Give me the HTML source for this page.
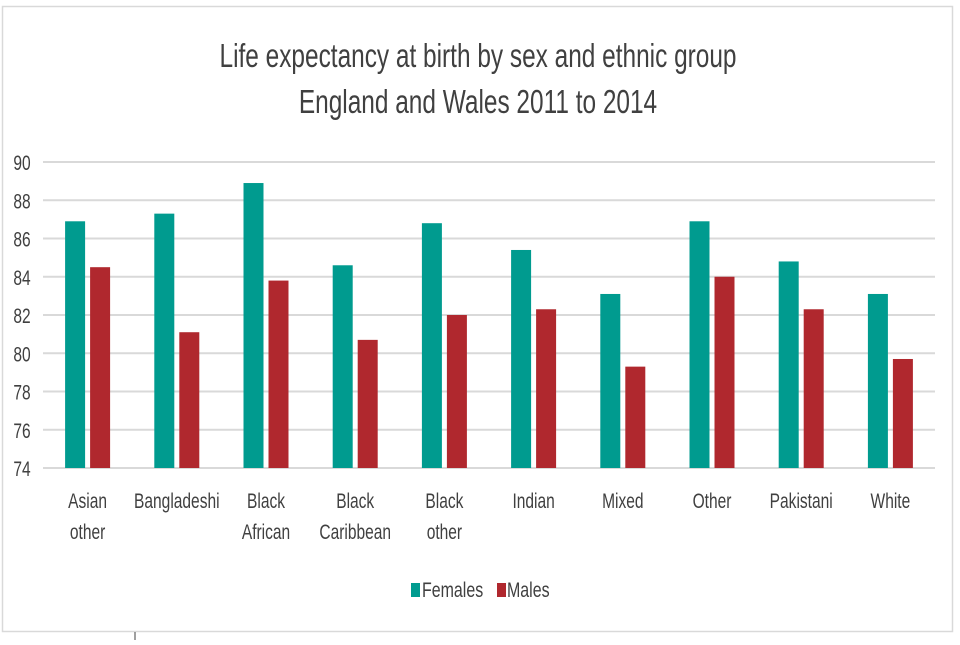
<!DOCTYPE html>
<html><head><meta charset="utf-8"><style>
html,body{margin:0;padding:0;background:#fff;}
svg text{font-family:"Liberation Sans",Arial,sans-serif;fill:#404040;}
</style></head><body>
<svg width="960" height="640" viewBox="0 0 960 640" xmlns="http://www.w3.org/2000/svg">
<rect x="2.5" y="6.5" width="950" height="625" fill="#fff" stroke="#d9d9d9" stroke-width="1.5"/>
<line x1="135" y1="632" x2="135" y2="640" stroke="#404040" stroke-width="1"/>
<g>
<text transform="translate(478,67) scale(0.74,1)" text-anchor="middle" font-size="33">Life expectancy at birth by sex and ethnic group</text>
<text transform="translate(478,113) scale(0.74,1)" text-anchor="middle" font-size="33">England and Wales 2011 to 2014</text>
</g>
<g id="grid"></g><g id="bars"></g><g id="labels"></g>
<g>
<g><rect x="411" y="583" width="9" height="14" fill="#009b8f"/><text transform="translate(422,597) scale(0.76,1)" font-size="21">Females</text></g>
<g><rect x="497" y="583" width="9" height="14" fill="#b0282e"/><text transform="translate(507,597) scale(0.76,1)" font-size="21">Males</text></g>
</g>
</svg>
<script>
const categories=[["Asian","other"],["Bangladeshi"],["Black","African"],["Black","Caribbean"],["Black","other"],["Indian"],["Mixed"],["Other"],["Pakistani"],["White"]];
const females=[86.9,87.3,88.9,84.6,86.8,85.4,83.1,86.9,84.8,83.1];
const males=[84.5,81.1,83.8,80.7,82.0,82.3,79.3,84.0,82.3,79.7];
const yTicks=[74,76,78,80,82,84,86,88,90];
const NS="http://www.w3.org/2000/svg";
const x0=43,x1=935,yMin=74,yMax=90,py0=468,py1=162;
const cw=(x1-x0)/categories.length;
const y=v=>py0-(v-yMin)/(yMax-yMin)*(py0-py1);
function mk(t,a,p){const e=document.createElementNS(NS,t);for(const k in a)e.setAttribute(k,a[k]);p.appendChild(e);return e;}
const grid=document.getElementById('grid'),bars=document.getElementById('bars'),labels=document.getElementById('labels');
yTicks.forEach(v=>{
 const l=mk('line',{x1:x0,x2:x1,y1:y(v),y2:y(v),stroke:'#d9d9d9','stroke-width':2},grid);
 
 
 const t=mk('text',{transform:`translate(22,${y(v)+8}) scale(0.74,1)`,'text-anchor':'middle','font-size':21},grid);
 t.textContent=v;
 
 
});
categories.forEach((c,i)=>{
 const cx=x0+cw*(i+0.5);
 const f=mk('rect',{x:cx-22.5,y:y(females[i]),width:20,height:py0-y(females[i]),fill:'#009b8f'},bars);
 
 
 const m=mk('rect',{x:cx+2.5,y:y(males[i]),width:20,height:py0-y(males[i]),fill:'#b0282e'},bars);
 
 
 c.forEach((s,j)=>{
  const t=mk('text',{transform:`translate(${cx},${508+j*31}) scale(0.74,1)`,'text-anchor':'middle','font-size':21},labels);
  t.textContent=s;
  
  
 });
});
</script>
</body></html>
